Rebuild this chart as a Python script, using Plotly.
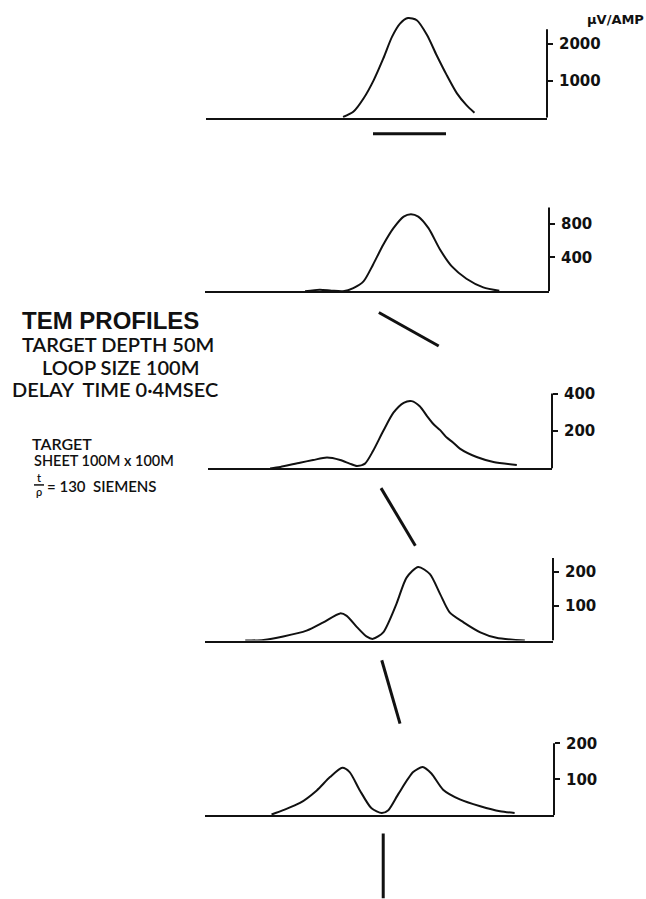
import plotly.graph_objects as go

W, H = 646, 899

# ---------------- data (x in metres along profile, y in uV/AMP) ----------------
p1_x = [-91, -77, -63, -49, -36, -24, -13, -2, 10, 24, 37, 51, 65, 78, 89]
p1_y = [20, 160, 520, 1020, 1600, 2190, 2550, 2700, 2640, 2240, 1700, 1155, 660, 340, 135]

p2_x = [-143, -123, -107, -91, -77, -63, -50, -36, -22, -8, 2, 12, 26, 42, 58, 78, 101, 123]
p2_y = [0, 18, 8, 2, 39, 118, 314, 549, 745, 882, 910, 882, 745, 490, 294, 149, 47, 8]

p3_x = [-191, -177, -150, -132, -113, -95, -82, -72, -61, -50, -36, -22, -8, 3, 14, 24, 33, 42, 51, 60, 69, 92, 115, 147]
p3_y = [0, 8, 31, 45, 58, 45, 26, 13, 26, 93, 200, 298, 351, 360, 333, 280, 236, 205, 165, 138, 106, 61, 35, 19]

p4_x = [-225, -200, -173, -141, -118, -95, -86, -72, -59, -50, -36, -18, -4, 12, 28, 42, 55, 74, 97, 119, 158]
p4_y = [0, 2, 12, 29, 53, 79, 72, 39, 12, 5, 24, 106, 183, 214, 193, 135, 82, 53, 24, 8, 0]

p5_x = [-189, -173, -150, -127, -109, -92, -82, -68, -52, -38, -29, -15, 5, 18, 30, 46, 69, 97, 124, 144]
p5_y = [2, 14, 34, 69, 106, 132, 120, 69, 19, 6, 14, 60, 120, 134, 116, 71, 44, 25, 11, 6]

profiles_x = [p1_x, p2_x, p3_x, p4_x, p5_x]
profiles_y = [p1_y, p2_y, p3_y, p4_y, p5_y]

# target sheet cross-sections (x in m, depth in m below profile line)
sheet_x = [[-50, 50], [-42, 40], [-39, 8], [-38, -13], [-36, -36]]
sheet_depth = [[22, 22], [29, 75], [27, 106], [27, 114], [25, 114]]

tick_values = [[1000, 2000], [400, 800], [200, 400], [100, 200], [100, 200]]
scale_tops = [2400, 990, 400, 240, 200]

# ---------------- layout geometry (pixels) ----------------
baseline_px = [116, 290, 467.5, 640, 815]
unit_px = [0.037, 0.085, 0.1875, 0.345, 0.36]
top_px = [8, 198, 385, 550, 736]
left_px = [206, 205, 208, 205, 205]
right_px = [547, 549, 552, 553, 554]
zero_px = 409.5
px_per_m = 0.73
section_gap_px = 4
section_px = 86

BLACK = "#111111"

fig = go.Figure()
layout = {}
shapes = []

for i in range(5):
    n = i + 1
    xa = "x" if n == 1 else f"x{n}"
    ya = "y" if n == 1 else f"y{n}"
    sx = f"x{n + 5}"
    sy = f"y{n + 5}"
    xr = [(left_px[i] - zero_px) / px_per_m, (right_px[i] - zero_px) / px_per_m]
    xdom = [left_px[i] / W, right_px[i] / W]

    fig.add_trace(go.Scatter(
        x=profiles_x[i], y=profiles_y[i], mode="lines",
        line=dict(color=BLACK, width=2, shape="spline", smoothing=0.7),
        xaxis=xa, yaxis=ya, hoverinfo="skip", showlegend=False))

    fig.add_trace(go.Scatter(
        x=sheet_x[i], y=sheet_depth[i], mode="lines",
        line=dict(color=BLACK, width=3),
        xaxis=sx, yaxis=sy, hoverinfo="skip", showlegend=False))

    layout["xaxis" if n == 1 else f"xaxis{n}"] = dict(
        domain=xdom, range=xr, anchor=ya, showline=True, linewidth=2,
        linecolor=BLACK, showgrid=False, zeroline=False,
        showticklabels=False, ticks="", fixedrange=True)
    layout["yaxis" if n == 1 else f"yaxis{n}"] = dict(
        domain=[1 - baseline_px[i] / H, 1 - top_px[i] / H],
        range=[0, (baseline_px[i] - top_px[i]) / unit_px[i]],
        anchor=xa, side="right", showline=False, showgrid=False,
        zeroline=False, ticks="outside", ticklen=5, tickwidth=2,
        tickcolor=BLACK, tickvals=tick_values[i],
        ticktext=[str(v) for v in tick_values[i]],
        tickfont=dict(family="DejaVu Sans", size=15, color=BLACK, weight="bold"),
        ticklabelstandoff=3, fixedrange=True)

    sec_top_px = baseline_px[i] + section_gap_px
    sec_bottom = max(0.0, 1 - (baseline_px[i] + section_px) / H)
    sec_depth_top = section_gap_px / px_per_m
    sec_depth_bottom = sec_depth_top + ((1 - sec_bottom) * H - sec_top_px) / px_per_m
    layout[f"xaxis{n + 5}"] = dict(
        domain=xdom, range=xr, anchor=sy, visible=False, fixedrange=True)
    layout[f"yaxis{n + 5}"] = dict(
        domain=[sec_bottom, 1 - sec_top_px / H],
        range=[sec_depth_bottom, sec_depth_top],
        anchor=sx, visible=False, fixedrange=True)

    shapes.append(dict(
        type="line", xref=f"{xa} domain", x0=1, x1=1,
        yref=ya, y0=0, y1=scale_tops[i],
        line=dict(color=BLACK, width=2)))

# fraction bar for t/rho
shapes.append(dict(type="line", xref="paper", yref="paper",
                   x0=34 / W, x1=44 / W, y0=1 - 484 / H, y1=1 - 484 / H,
                   line=dict(color=BLACK, width=1.5)))


def ann(text, xpx, ypx, size, anchor="center", weight="normal", family="Lato"):
    return dict(text=text, x=xpx / W, y=1 - ypx / H, xref="paper", yref="paper",
                xanchor=anchor, yanchor="middle", showarrow=False, borderpad=0,
                font=dict(family=family, size=size, color=BLACK, weight=weight))


annotations = [
    ann("μV/AMP", 586, 18, 13, anchor="left", weight="bold", family="DejaVu Sans"),
    ann("TEM PROFILES", 110, 319, 24, weight="bold", family="Liberation Sans"),
    ann("TARGET DEPTH 50M", 118, 343, 20, weight=600),
    ann("LOOP SIZE 100M", 120, 366, 20, weight=600),
    ann("DELAY  TIME 0·4MSEC", 115, 388, 20, weight=600),
    ann("TARGET", 31, 442, 16, anchor="left", weight=600),
    ann("SHEET 100M x 100M", 33, 460, 14.5, anchor="left", weight=600),
    ann("t<br>ρ", 39, 484, 11, weight=600),
    ann("= 130  SIEMENS", 46, 485, 15, anchor="left", weight=600),
]

fig.update_layout(
    width=W, height=H, margin=dict(l=0, r=0, t=0, b=0),
    paper_bgcolor="white", plot_bgcolor="rgba(0,0,0,0)", showlegend=False,
    shapes=shapes, annotations=annotations, **layout)

fig.write_html("out.html")
